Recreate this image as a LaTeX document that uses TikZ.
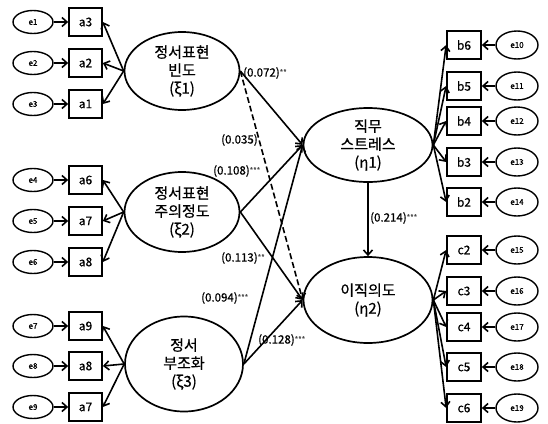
\documentclass[tikz,border=0pt]{standalone}
\usepackage{fontspec}
\setmainfont{Noto Sans CJK KR}[FakeBold=0.6]
\usetikzlibrary{arrows.meta,shapes.geometric}
\newcommand\sigmark[1]{\raisebox{1.5pt}{\fontsize{7.5}{7.5}\selectfont\color{black!70}#1}}
\begin{document}
\begin{tikzpicture}[x=1pt,y=-1pt,
 arr/.style={line width=1.6pt,-{Straight Barb[length=5pt,width=9pt,line width=1.6pt]}},
 lat/.style={ellipse,draw,line width=1.7pt,inner sep=0pt,align=center,font=\fontsize{15}{18}\selectfont},
 obs/.style={rectangle,draw,line width=1.7pt,minimum width=33pt,minimum height=28pt,inner sep=0pt,font=\fontsize{12}{13}\selectfont},
 errl/.style={ellipse,draw,line width=1.4pt,minimum width=40pt,minimum height=23pt,inner sep=0pt,font=\fontsize{8}{9}\selectfont},
 errr/.style={ellipse,draw,line width=1.4pt,minimum width=42pt,minimum height=28pt,inner sep=0pt,font=\fontsize{8}{9}\selectfont},
 coef/.style={font=\fontsize{11.5}{12}\selectfont,inner sep=0pt,anchor=west}
]
\useasboundingbox (0,0) rectangle (548,423);

% left latent variables
\node[lat,minimum width=115pt,minimum height=78pt] (x1) at (182,71) {정서표현\\빈도\\(ξ1)};
\node[lat,minimum width=115pt,minimum height=80pt] (x2) at (182,212) {정서표현\\주의정도\\(ξ2)};
\node[lat,minimum width=118pt,minimum height=95pt] (x3) at (184,364) {정서\\부조화\\(ξ3)};

% right latent variables
\node[lat,minimum width=129pt,minimum height=74pt] (y1) at (368,145) {직무\\스트레스\\(η1)};
\node[lat,minimum width=129pt,minimum height=86pt] (y2) at (368,300) {이직의도\\(η2)};

% left indicators
\foreach \n/\lab/\e/\yy in {a3/a3/e1/22, a2/a2/e2/63, a1/a1/e3/104, a6/a6/e4/180, a7/a7/e5/221, a8/a8/e6/262, a9/a9/e7/326, a8b/a8/e8/366, a7b/a7/e9/407}{
  \node[obs] (\n) at (85.5,\yy) {\lab};
  \node[errl] (\e) at (33,\yy) {\e};
  \draw[arr] (\e) -- (\n);
}
\foreach \n in {a3,a2,a1}{\draw[arr] (x1.west) -- (\n.east);}
\foreach \n in {a6,a7,a8}{\draw[arr] (x2.west) -- (\n.east);}
\foreach \n in {a9,a8b,a7b}{\draw[arr] (x3.west) -- (\n.east);}

% right indicators
\foreach \n/\e/\yy in {b6/e10/45, b5/e11/86, b4/e12/121, b3/e13/162, b2/e14/202, c2/e15/250, c3/e16/291, c4/e17/327, c5/e18/367, c6/e19/408}{
  \node[obs,minimum width=34pt] (\n) at (464,\yy) {\n};
  \node[errr] (\e) at (517,\yy) {\e};
  \draw[arr] (\e) -- (\n);
}
\foreach \n in {b6,b5,b4,b3,b2}{\draw[arr] (y1.east) -- (\n.west);}
\foreach \n in {c2,c3,c4,c5,c6}{\draw[arr] (y2.east) -- (\n.west);}

% structural paths
\draw[arr] (x1.east) -- (y1.west);
\draw[arr,dash pattern=on 6pt off 3pt] (x1.east) -- (y2.west);
\draw[arr] (x2.east) -- (y1.west);
\draw[arr] (x2.east) -- (y2.west);
\draw[arr] (x3.east) -- (y1.west);
\draw[arr] (x3.east) -- (y2.west);
\draw[arr] (y1.south) -- (y2.north);

% coefficients
\node[coef] (c072) at (243,73) {(0.072)\sigmark{**}};
\node[coef] (c035) at (221,140) {(0.035)};
\node[coef] (c108) at (213,171) {(0.108)\sigmark{***}};
\node[coef] (c113) at (221,258) {(0.113)\sigmark{**}};
\node[coef] (c094) at (201,298) {(0.094)\sigmark{***}};
\node[coef] (c128) at (258,340) {(0.128)\sigmark{***}};
\node[coef] (c214) at (370,218) {(0.214)\sigmark{***}};
\end{tikzpicture}
\end{document}
